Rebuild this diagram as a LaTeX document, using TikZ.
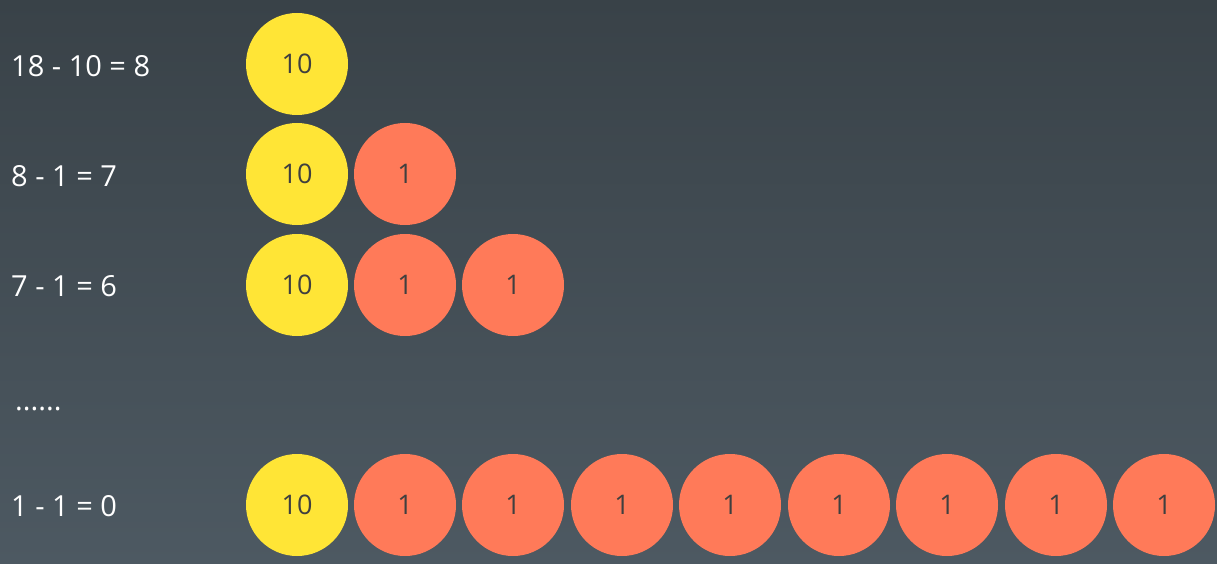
\documentclass[tikz,border=0pt]{standalone}
\usepackage{fontspec}
\setmainfont{Open Sans}
\definecolor{bgtop}{HTML}{394248}
\definecolor{bgbot}{HTML}{4D5962}
\definecolor{coinyellow}{HTML}{FFE536}
\definecolor{coinorange}{HTML}{FF7A59}
\definecolor{cointext}{HTML}{3F3F3F}
\begin{document}
\begin{tikzpicture}[x=1pt,y=-1pt,
  coin/.style={circle,minimum size=102pt,inner sep=0pt,text=cointext,font=\fontsize{27}{32}\selectfont},
  ten/.style={coin,fill=coinyellow},
  one/.style={coin,fill=coinorange},
  eq/.style={anchor=west,text=white,font=\fontsize{29}{35}\selectfont,inner sep=0pt}]
\shade[top color=bgtop,bottom color=bgbot] (0,0) rectangle (1217,564);
\useasboundingbox (0,0) rectangle (1217,564);
% equations
\node[eq] (e1) at (11,66) {18 - 10 = 8};
\node[eq] (e2) at (11,176) {8 - 1 = 7};
\node[eq] (e3) at (11,286) {7 - 1 = 6};
\node[eq] (e4) at (15,409) {......};
\node[eq] (e5) at (11,506) {1 - 1 = 0};
% row 1
\node[ten] (r1c1) at (297,64) {10};
% row 2
\node[ten] (r2c1) at (297,174) {10};
\node[one] (r2c2) at (405,174) {1};
% row 3
\node[ten] (r3c1) at (297,285) {10};
\node[one] (r3c2) at (405,285) {1};
\node[one] (r3c3) at (513,285) {1};
% row 4
\node[ten] (r4c1) at (297,505) {10};
\foreach \i/\x in {2/405,3/513,4/622,5/730,6/839,7/947,8/1056,9/1164}{
  \node[one] (r4c\i) at (\x,505) {1};
}
\end{tikzpicture}
\end{document}
